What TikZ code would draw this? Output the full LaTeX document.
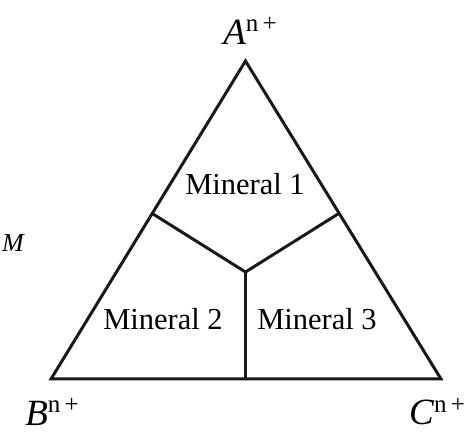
\documentclass[tikz,border=0pt]{standalone}
\usepackage{fontspec}
\setmainfont{Liberation Serif}
\usetikzlibrary{positioning}

\newcommand{\chg}{\raisebox{13pt}{\fontsize{25}{28}\selectfont n\,+}}

\begin{document}
\begin{tikzpicture}[
  x=1pt, y=-1pt,
  edge/.style={line width=3pt, line join=miter, black!90},
  region/.style={font=\fontsize{30.5}{34}\selectfont, anchor=base, inner sep=0pt},
  corner/.style={font=\fontsize{37}{42}\selectfont, anchor=base, inner sep=0pt},
]
\useasboundingbox (0,0) rectangle (475,433);

% --- Corners of the triangle ---
\coordinate (cA) at (245.5, 61);
\coordinate (cB) at (51, 379);
\coordinate (cC) at (441, 379);

% --- Boundary points ---
\coordinate (mid) at (245.5, 272);
\coordinate (pAB) at (153, 214);
\coordinate (pAC) at (338, 214);
\coordinate (pBC) at (245.5, 379);

% --- Triangle and phase boundaries ---
\draw[edge] (cA) -- (cB) -- (cC) -- cycle;
\draw[edge] (pAB) -- (mid) -- (pAC);
\draw[edge] (mid) -- (pBC);

% --- Corner labels ---
\node[corner] (lblA) at (250, 45) {\textit{A}\chg};
\node[corner] (lblB) at (52, 426) {\textit{B}\chg};
\node[corner] (lblC) at (437, 425) {\textit{C}\chg};
\node[font=\fontsize{26}{30}\selectfont\itshape, anchor=base, inner sep=0pt]
  (lblM) at (13, 252) {M};

% --- Regions ---
\node[region] (min1) at (245, 195) {Mineral 1};
\node[region] (min2) at (163, 330) {Mineral 2};
\node[region] (min3) at (317, 330) {Mineral 3};

\end{tikzpicture}
\end{document}
